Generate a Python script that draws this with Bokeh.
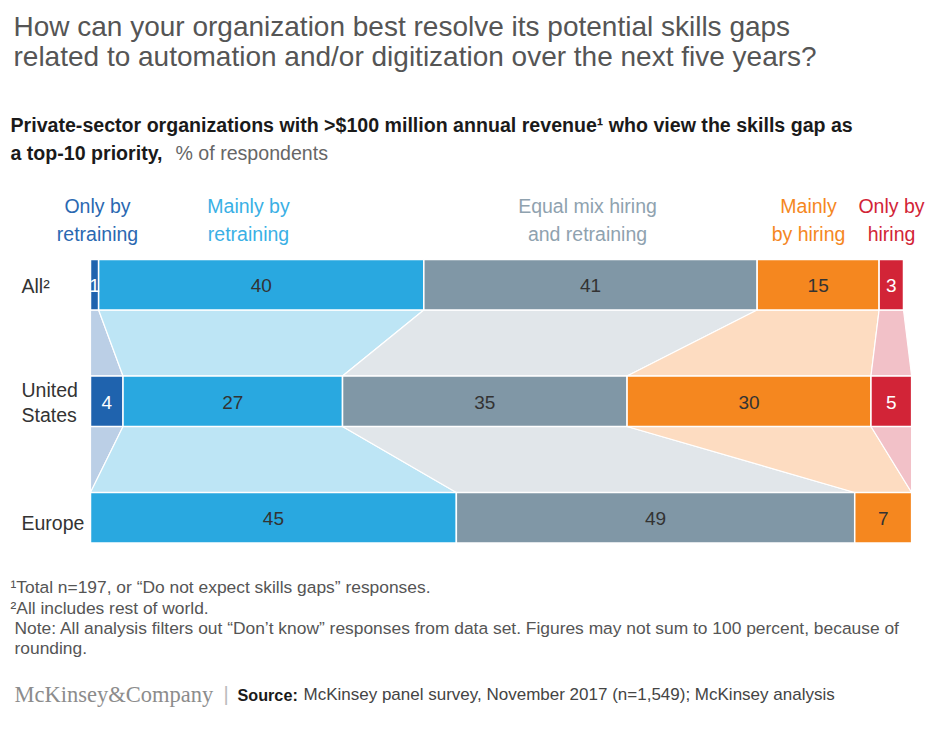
from bokeh.plotting import figure
from bokeh.models import Range1d, Label
from bokeh.embed import file_html
from bokeh.resources import INLINE
from bokeh.core.properties import value

# ---------------- data ----------------
rows = ["All²", "United States", "Europe"]
categories = ["Only by retraining", "Mainly by retraining", "Equal mix hiring and retraining",
              "Mainly by hiring", "Only by hiring"]
only_retrain = [1, 4, 0]
mainly_retrain = [40, 27, 45]
equal_mix = [41, 35, 49]
mainly_hiring = [15, 30, 7]
only_hiring = [3, 5, 0]
series = [only_retrain, mainly_retrain, equal_mix, mainly_hiring, only_hiring]

# ---------------- styles ----------------
dark = ["#1f63ae", "#29a8e0", "#8097a6", "#f5871f", "#d22437"]
light = ["#bbcfe6", "#bde5f5", "#e1e6ea", "#fddcc1", "#f2c1c8"]
head_col = ["#2a68b1", "#3ab0e5", "#8fa2af", "#f5871f", "#d22437"]
val_col = ["#ffffff", "#333333", "#333333", "#333333", "#ffffff"]
FONT = "Liberation Sans"

W, H = 945, 731
PX0 = 90.0        # pixel where 0% sits
SCALE = 8.13      # pixels per percentage point
row_top = [259, 375.5, 492]
BAR_H = 50.5

def X(px):
    return (px - PX0) / SCALE

p = figure(width=W, height=H, x_range=Range1d(X(0), X(W)), y_range=Range1d(H, 0),
           output_backend="svg", toolbar_location=None, x_axis_type=None, y_axis_type=None,
           min_border=0, min_border_left=0, min_border_right=0, min_border_top=0, min_border_bottom=0)
p.grid.visible = False
p.outline_line_color = None
p.background_fill_color = "white"
p.border_fill_color = "white"

# cumulative positions
lefts, rights = [], []
for r in range(len(rows)):
    acc = 0
    L, R = [], []
    for s in series:
        L.append(acc)
        acc += s[r]
        R.append(acc)
    lefts.append(L)
    rights.append(R)

# connecting trapezoids
for r in range(len(rows) - 1):
    xs, ys, cols = [], [], []
    for k in range(len(series)):
        xs.append([lefts[r][k], rights[r][k], rights[r + 1][k], lefts[r + 1][k]])
        b = row_top[r] + BAR_H
        t = row_top[r + 1]
        ys.append([b, b, t, t])
        cols.append(light[k])
    p.patches(xs, ys, fill_color=cols, line_color="white", line_width=1.2)

# bars
for r in range(len(rows)):
    for k, s in enumerate(series):
        if s[r] == 0:
            continue
        p.quad(left=lefts[r][k], right=rights[r][k], top=row_top[r], bottom=row_top[r] + BAR_H,
               fill_color=dark[k], line_color="white", line_width=1.5)

# value labels
tx, ty, tt, tc = [], [], [], []
for r in range(len(rows)):
    for k, s in enumerate(series):
        if s[r] == 0:
            continue
        tx.append((lefts[r][k] + rights[r][k]) / 2)
        ty.append(row_top[r] + BAR_H / 2 + 1)
        tt.append(str(s[r]))
        tc.append(val_col[k])
p.text(x=tx, y=ty, text=tt, text_color=tc, text_font=value(FONT), text_font_size="19px",
       text_align="center", text_baseline="middle")

def lab(px, py, text, size, color, style="normal", align="left", font=FONT, baseline="middle"):
    p.add_layout(Label(x=X(px), y=py, text=text, text_font_size=size, text_color=color,
                       text_font_style=style, text_align=align, text_baseline=baseline,
                       text_font=font))

# title
lab(13, 26, "How can your organization best resolve its potential skills gaps", "28px", "#555555")
lab(13, 56, "related to automation and/or digitization over the next five years?", "28px", "#555555")

# subtitle
lab(10, 124, "Private-sector organizations with >$100 million annual revenue¹ who view the skills gap as",
    "19.6px", "#1a1a1a", style="bold")
lab(10, 152, "a top-10 priority,", "19.6px", "#1a1a1a", style="bold")
lab(175, 152, "% of respondents", "19.6px", "#666666")

# column headers
head_x = [97, 248, 587, 808, 891]
head_lines = [["Only by", "retraining"], ["Mainly by", "retraining"],
              ["Equal mix hiring", "and retraining"], ["Mainly", "by hiring"], ["Only by", "hiring"]]
for k in range(5):
    for j, line in enumerate(head_lines[k]):
        lab(head_x[k], 205 + 28 * j, line, "19.5px", head_col[k], align="center")

# row labels
lab(21, 285, "All²", "19.5px", "#333333")
lab(21, 389, "United", "19.5px", "#333333")
lab(21, 414, "States", "19.5px", "#333333")
lab(21, 522, "Europe", "19.5px", "#333333")

# footnotes
lab(10, 586, "¹Total n=197, or “Do not expect skills gaps” responses.", "17.4px", "#555555")
lab(10, 607, "²All includes rest of world.", "17.4px", "#555555")
lab(14, 627, "Note: All analysis filters out “Don’t know” responses from data set. Figures may not sum to 100 percent, because of",
    "17.4px", "#555555")
lab(14, 647, "rounding.", "17.4px", "#555555")

# source line
lab(14, 694, "McKinsey&Company", "22.5px", "#8c8c8c", font="Liberation Serif")
lab(223, 693, "|", "20px", "#bbbbbb")
lab(237, 694, "Source:", "16.2px", "#1a1a1a", style="bold")
lab(303, 694, "McKinsey panel survey, November 2017 (n=1,549); McKinsey analysis", "17px", "#444444")

open("out.html", "w").write(file_html(p, INLINE))
